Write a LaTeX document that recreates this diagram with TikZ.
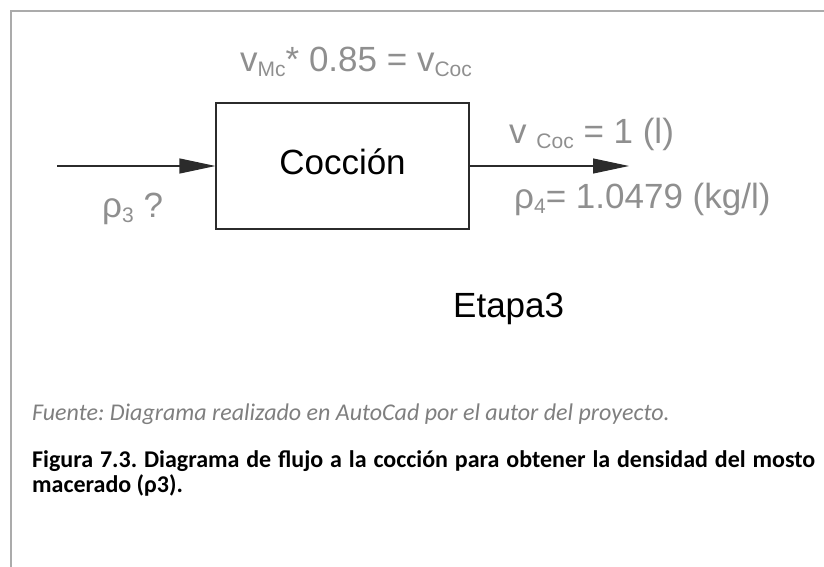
\documentclass[tikz,border=0pt]{standalone}
\usepackage{fontspec}
\setmainfont{Liberation Sans}
\newfontfamily\captionfont{Carlito}
\usetikzlibrary{arrows.meta,positioning}
\frenchspacing
\definecolor{frameGray}{HTML}{ABABAB}
\definecolor{labelGray}{HTML}{8F8F8F}
\definecolor{noteGray}{HTML}{7F7F7F}
\definecolor{lineDark}{HTML}{2B2B2B}
\newcommand{\lowsub}[1]{\raisebox{-5pt}{\fontsize{21}{21}\selectfont #1}}
\tikzset{
  flow/.style={-{Triangle[length=36pt,width=15pt]}, line width=1.1pt, draw=lineDark},
  unit/.style={draw=lineDark, line width=1.1pt, minimum width=253pt,
    minimum height=126pt, inner sep=0pt},
  lbl/.style={anchor=base west, inner sep=0pt, text=labelGray,
    font=\fontsize{35}{40}\selectfont},
  stagelbl/.style={anchor=base west, inner sep=0pt, font=\fontsize{35}{40}\selectfont},
  note/.style={anchor=base west, inner sep=0pt, text=noteGray,
    font=\captionfont\itshape\fontsize{24}{25}\selectfont},
  capline/.style={anchor=base west, inner sep=0pt,
    font=\captionfont\bfseries\fontsize{24}{25}\selectfont}
}

\begin{document}
\begin{tikzpicture}[x=1pt,y=-1pt]
  \useasboundingbox (0,0) rectangle (824,567);
  \draw[frameGray, line width=2pt] (824,11) -- (11,11) -- (11,567);
  % process block
  \node[unit] (coccion) at (342.5,166) {};
  \node[stagelbl, anchor=base] (coccionlbl) at (342.5,174) {Cocción};
  \coordinate (feed) at (57,166);
  \coordinate (product) at (629,166);
  \draw[flow] (feed) -- (coccion.west);
  \draw[flow] (coccion.east) -- (product);
  % stream data
  \node[lbl] (vmc) at (240,72) {v\lowsub{Mc}* 0.85 = v\lowsub{Coc}};
  \node[lbl] (rhoin) at (102,217) {ρ\lowsub{3} ?};
  \node[lbl] (vcoc) at (509,143) {v \lowsub{Coc} = 1 (l)};
  \node[lbl] (rhoout) at (514,208) {ρ\lowsub{4}= 1.0479 (kg/l)};
  \node[stagelbl] (etapa) at (453,317) {Etapa3};
  % caption
  \node[note] (fuente) at (32,420) {Fuente: Diagrama realizado en AutoCad por el autor del proyecto.};
  \node[capline] (figa) at (32,467) {\makebox[783pt][s]{Figura 7.3. Diagrama de flujo a la cocción para obtener la densidad del mosto}};
  \node[capline] (figb) at (32,492) {macerado (ρ3).};
\end{tikzpicture}
\end{document}
